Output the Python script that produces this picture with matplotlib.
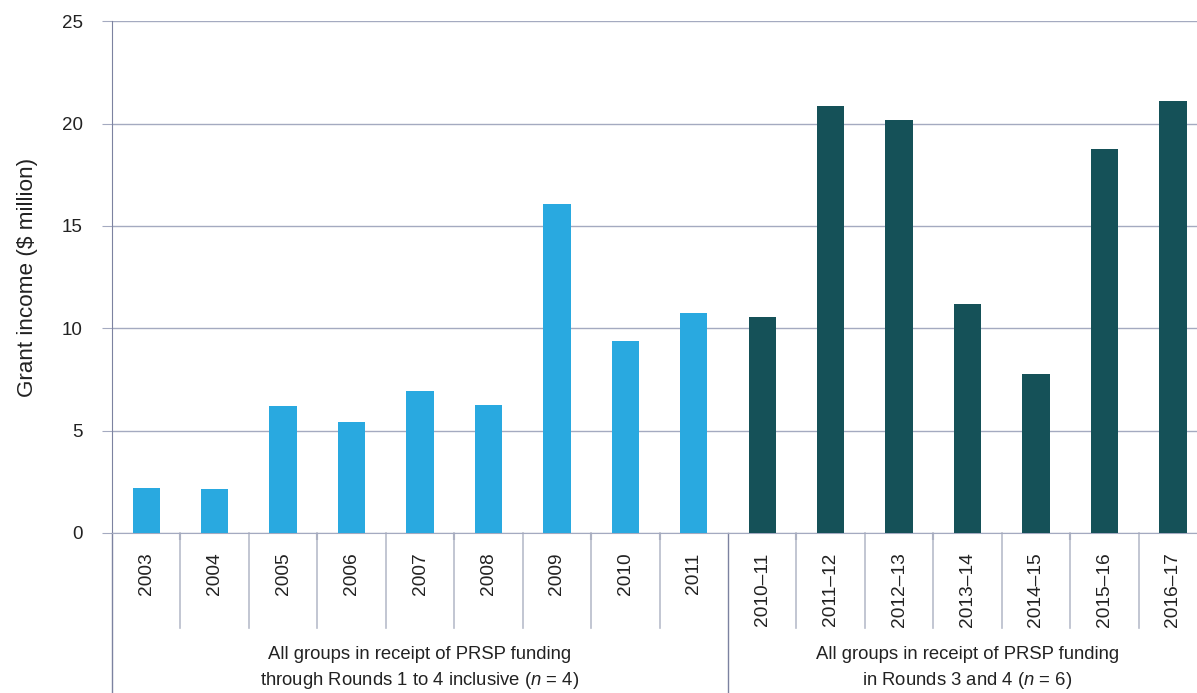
import matplotlib.pyplot as plt
import matplotlib.transforms as mtransforms
import numpy as np

plt.rcParams['font.family'] = ['Liberation Sans', 'DejaVu Sans']
plt.rcParams['mathtext.fontset'] = 'custom'
plt.rcParams['mathtext.it'] = 'Liberation Sans:italic'
plt.rcParams['mathtext.rm'] = 'Liberation Sans'

# data ------------------------------------------------------------------
years_a = ['2003', '2004', '2005', '2006', '2007', '2008', '2009', '2010', '2011']
income_a = [2.2, 2.15, 6.2, 5.4, 6.95, 6.25, 16.05, 9.4, 10.75]
years_b = ['2010\u201311', '2011\u201312', '2012\u201313', '2013\u201314',
           '2014\u201315', '2015\u201316', '2016\u201317']
income_b = [10.55, 20.85, 20.15, 11.2, 7.75, 18.75, 21.1]
group_labels = ['All groups in receipt of PRSP funding\nthrough Rounds 1 to 4 inclusive ($\\mathit{n}$ = 4)',
                'All groups in receipt of PRSP funding\nin Rounds 3 and 4 ($\\mathit{n}$ = 6)']
yticks = [0, 5, 10, 15, 20, 25]

light = '#29a9e0'
dark = '#155158'
grid_c = '#a4aac0'
sep_c = '#b8bccb'
spine_c = '#7c82a0'
txt_c = '#222222'

fig = plt.figure(figsize=(11.97, 6.93), dpi=100)
ax = fig.add_axes([0.0936, 0.2309, 0.9148, 0.7385])

labels = years_a + years_b
x = np.arange(len(labels))
na = len(years_a)
ax.bar(x[:na], income_a, width=0.4, color=light, zorder=3)
ax.bar(x[na:], income_b, width=0.4, color=dark, zorder=3)

ax.set_xlim(-0.5, len(labels) - 0.5)
ax.set_ylim(0, 25)
ax.set_yticks(yticks)
ax.tick_params(axis='y', length=7, labelsize=13.5, pad=14, colors=txt_c)
ax.tick_params(axis='y', color=grid_c)
ax.yaxis.grid(True, color=grid_c, linewidth=1, zorder=0)
for s in ['top', 'right']:
    ax.spines[s].set_visible(False)
ax.spines['bottom'].set_color(grid_c)
ax.spines['left'].set_color(spine_c)

# short darker ticks at some separators
ax.set_xticks([0.5, 2.5, 4.5, 6.5, 7.5, 9.5, 11.5, 13.5])
ax.set_xticklabels([])
ax.tick_params(axis='x', length=5, color=spine_c, width=1.5)

trans = mtransforms.blended_transform_factory(ax.transData, ax.transAxes)
for i, lab in enumerate(labels):
    ax.text(i, -0.038, lab, rotation=90, ha='center', va='top', fontsize=13.8,
            color=txt_c, transform=trans)

# category separators
for i in range(len(labels) - 1):
    if i == na - 1:
        continue
    ax.plot([i + 0.5, i + 0.5], [0, -0.185], color=sep_c, linewidth=1.2,
            transform=trans, clip_on=False)
# group separators
for xs in [-0.5, na - 0.5]:
    ax.plot([xs, xs], [0, -0.32], color=spine_c, linewidth=1,
            transform=trans, clip_on=False)

ax.set_ylabel('Grant income ($ million)', fontsize=16.2, color=txt_c, labelpad=17)

ax.text((-0.5 + na - 0.5) / 2, -0.265, group_labels[0], ha='center', va='center',
        fontsize=13.3, linespacing=1.45, color=txt_c, transform=trans)
ax.text((na - 0.5 + len(labels) - 0.5) / 2, -0.265, group_labels[1], ha='center', va='center',
        fontsize=13.3, linespacing=1.45, color=txt_c, transform=trans)

fig.savefig('out.png', dpi=100)
